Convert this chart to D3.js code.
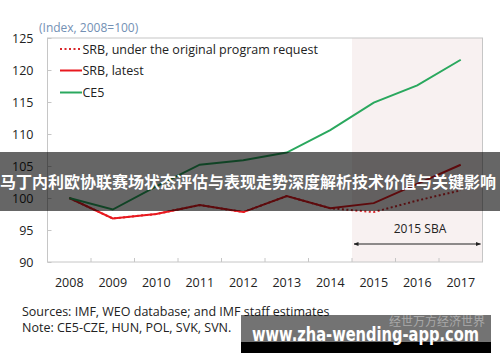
<!DOCTYPE html>
<html><head><meta charset="utf-8">
<script src="https://cdn.jsdelivr.net/npm/d3@7"></script>
<style>body{margin:0;background:#fff}svg{display:block}</style>
</head><body>
<svg id="c" width="500" height="362"></svg>
<script>
const years = ["2008","2009","2010","2011","2012","2013","2014","2015","2016","2017"];
const ce5 = [100, 98.2, 101.8, 105.2, 105.9, 107.1, 110.6, 114.9, 117.6, 121.6];
const srbLatest = [100, 96.8, 97.5, 98.9, 97.8, 100.3, 98.4, 99.2, 102.2, 105.2];
const srbOriginal = [100, 96.8, 97.5, 98.9, 97.8, 100.3, 98.4, 97.8, 99.6, 101.2];
const yTicks = [90, 95, 100, 105, 110, 115, 120, 125];
const legendLabels = ["SRB, under the original program request", "SRB, latest", "CE5"];

const svg = d3.select("#c");
const font = "'Open Sans', 'Noto Sans', sans-serif";
const L = 47.5, R = 482.5, T = 38, B = 262;
const x = d3.scaleBand().domain(years).range([L, R]);
const y = d3.scaleLinear().domain([90, 125]).range([B, T]);
const cx = d => x(d) + x.bandwidth() / 2;

// shaded projection area
svg.append("rect").attr("x", x("2015")).attr("y", T).attr("width", R - x("2015")).attr("height", B - T).attr("fill", "#f8f1f1");

// frame
svg.append("rect").attr("x", L).attr("y", T).attr("width", R - L).attr("height", B - T)
  .attr("fill", "none").attr("stroke", "#c6c6c6").attr("stroke-width", 1);

// y axis
const ya = svg.append("g").attr("transform", `translate(${L},0)`)
  .call(d3.axisLeft(y).tickValues(yTicks).tickSize(-4).tickPadding(14).tickFormat(d3.format("d")));
ya.select(".domain").remove();
ya.selectAll(".tick line").attr("stroke", "#c6c6c6");
ya.selectAll(".tick text").attr("font-family", font).attr("font-size", 12.5).attr("fill", "#222");

// x axis
const xa = svg.append("g").attr("transform", `translate(0,${B})`)
  .call(d3.axisBottom(x).tickSize(0).tickPadding(16));
xa.select(".domain").remove();
xa.selectAll(".tick text").attr("font-family", font).attr("font-size", 12.5).attr("fill", "#222");
svg.append("g").selectAll("line").data(years.slice(1)).join("line")
  .attr("x1", d => x(d)).attr("x2", d => x(d)).attr("y1", B).attr("y2", B - 4)
  .attr("stroke", "#c6c6c6");

// y title
svg.append("text").attr("x", 39).attr("y", 32).text("(Index, 2008=100)")
  .attr("font-family", font).attr("font-size", 12).attr("fill", "#7390b4");

// lines
const line = d3.line().x((d, i) => cx(years[i])).y(d => y(d));
svg.append("path").datum(srbOriginal).attr("d", line).attr("fill", "none")
  .attr("stroke", "#d9262b").attr("stroke-width", 2).attr("stroke-dasharray", "2,2.5");
svg.append("path").datum(srbLatest).attr("d", line).attr("fill", "none")
  .attr("stroke", "#e8191f").attr("stroke-width", 2);
svg.append("path").datum(ce5).attr("d", line).attr("fill", "none")
  .attr("stroke", "#2aa85e").attr("stroke-width", 2);

// legend
const legY = [49, 70.5, 92.5];
const legStyles = [
  {c: "#d9262b", dash: "2,2.5"},
  {c: "#e8191f", dash: null},
  {c: "#2aa85e", dash: null}
];
legendLabels.forEach((t, i) => {
  svg.append("line").attr("x1", 60).attr("x2", 82).attr("y1", legY[i]).attr("y2", legY[i])
    .attr("stroke", legStyles[i].c).attr("stroke-width", 2).attr("stroke-dasharray", legStyles[i].dash);
  svg.append("text").attr("x", 82.5).attr("y", legY[i] + 4.5).text(t)
    .attr("font-family", font).attr("font-size", 12.5).attr("fill", "#222");
});

// 2015 SBA annotation
svg.append("defs").html(`<marker id="ah" viewBox="0 0 10 10" refX="9" refY="5" markerWidth="5" markerHeight="5" orient="auto-start-reverse"><path d="M0,1 L10,5 L0,9 z" fill="#222"/></marker>`);
svg.append("line").attr("x1", x("2015") + 2).attr("x2", R - 2).attr("y1", 244).attr("y2", 244)
  .attr("stroke", "#222").attr("stroke-width", 1).attr("marker-start", "url(#ah)").attr("marker-end", "url(#ah)");
svg.append("text").attr("x", 420).attr("y", 233).attr("text-anchor", "middle").text("2015 SBA")
  .attr("font-family", font).attr("font-size", 12).attr("fill", "#222");

// sources
svg.append("text").attr("x", 22).attr("y", 316).text("Sources: IMF, WEO database; and IMF staff estimates")
  .attr("font-family", font).attr("font-size", 12.5).attr("fill", "#222");
svg.append("text").attr("x", 22).attr("y", 332).text("Note: CE5-CZE, HUN, POL, SVK, SVN.")
  .attr("font-family", font).attr("font-size", 12.5).attr("fill", "#222");

// overlay banner
svg.append("rect").attr("x", 0).attr("y", 152).attr("width", 500).attr("height", 59).attr("fill", "rgba(0,0,0,0.6)");
svg.append("text").attr("x", 0).attr("y", 188).text("马丁内利欧协联赛场状态评估与表现走势深度解析技术价值与关键影响")
  .attr("font-family", "'Noto Sans CJK SC', sans-serif").attr("font-weight", "bold").attr("font-size", 16).attr("fill", "#fff");

// watermark
svg.append("rect").attr("x", 241).attr("y", 315).attr("width", 250).attr("height", 38).attr("fill", "rgba(0,0,0,0.55)");
svg.append("rect").attr("x", 241).attr("y", 342).attr("width", 250).attr("height", 11).attr("fill", "#000");
svg.append("text").attr("x", 485).attr("y", 326).attr("text-anchor", "end").text("经世万方经济世界")
  .attr("font-family", "'Noto Sans CJK SC', sans-serif").attr("font-size", 12).attr("fill", "#a9a9a9");
svg.append("text").attr("x", 252).attr("y", 341).text("www.zha-wending-app.com")
  .attr("font-family", "'DejaVu Sans', sans-serif").attr("font-weight", "bold").attr("font-size", 19)
  .attr("fill", "#fff").attr("textLength", 227).attr("lengthAdjust", "spacingAndGlyphs");
</script>
</body></html>
